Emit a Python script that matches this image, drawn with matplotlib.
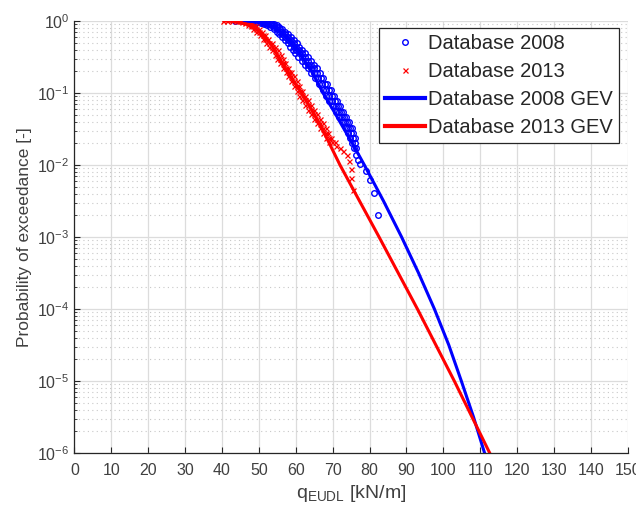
import numpy as np
import matplotlib
matplotlib.use("Agg")
import matplotlib.pyplot as plt
from matplotlib.ticker import LogLocator, NullFormatter

plt.rcParams["font.family"] = ["Liberation Sans", "DejaVu Sans"]

# empirical exceedance points, database 2008: one probability level per row,
# with the q [kN/m] values of the markers read along that level
db08_levels = [1.0, 0.99, 0.975, 0.95, 0.92, 0.88, 0.83, 0.77, 0.71, 0.65,
               0.59, 0.54, 0.49, 0.44, 0.40, 0.36, 0.32, 0.28, 0.245, 0.22,
               0.19, 0.16, 0.135, 0.11, 0.092, 0.078, 0.065, 0.055, 0.046,
               0.039, 0.033, 0.028, 0.024, 0.020, 0.017, 0.014, 0.0117,
               0.0102, 0.0083, 0.0062, 0.0041, 0.0020]
db08_rows = [
    [43.5, 45.5, 46.5, 47.5, 48.5],
    [47.0, 48.0, 49.0, 50.0, 51.0],
    [49.5, 50.5, 51.3, 52.2],
    [50.5, 51.5, 52.3, 53.2],
    [51.5, 52.5, 53.3, 54.0],
    [52.3, 53.2, 54.0, 54.8],
    [53.0, 54.0, 54.8, 55.5],
    [54.0, 54.8, 55.6, 56.4],
    [54.8, 55.6, 56.4, 57.2],
    [55.5, 56.4, 57.2, 58.0],
    [56.3, 57.2, 58.0, 58.8],
    [57.0, 57.9, 58.7, 59.5],
    [57.8, 58.7, 59.5, 60.3],
    [58.5, 59.4, 60.2, 61.0],
    [59.2, 60.1, 60.9, 61.7],
    [59.9, 60.8, 61.6, 62.4],
    [60.7, 61.6, 62.4, 63.2],
    [61.6, 62.5, 63.3, 64.1],
    [62.5, 63.4, 64.2, 65.0],
    [63.3, 64.2, 65.0, 65.7],
    [64.2, 65.0, 65.8, 66.5],
    [65.2, 66.0, 66.8, 67.5],
    [66.2, 67.0, 67.8, 68.5],
    [67.3, 68.1, 68.9, 69.5],
    [68.2, 69.0, 69.8, 70.4],
    [69.1, 69.9, 70.7, 71.3],
    [70.0, 70.8, 71.5, 72.1],
    [70.9, 71.7, 72.4, 72.9],
    [71.8, 72.5, 73.2, 73.7],
    [72.7, 73.4, 74.0, 74.5],
    [73.5, 74.2, 74.8, 75.2],
    [74.2, 74.9, 75.5],
    [74.8, 75.5, 76.1],
    [75.3, 76.0],
    [75.8, 76.3],
    [76.3],
    [76.9],
    [77.4],
    [79.0],
    [80.1],
    [81.2],
    [82.2],
]

# empirical exceedance points, database 2013
db13_levels = [1.0, 0.985, 0.96, 0.93, 0.89, 0.84, 0.78, 0.71, 0.64, 0.57,
               0.50, 0.44, 0.39, 0.34, 0.30, 0.26, 0.225, 0.195, 0.17, 0.145,
               0.125, 0.107, 0.092, 0.079, 0.068, 0.059, 0.051, 0.044, 0.038,
               0.033, 0.028, 0.024, 0.021, 0.0185, 0.017, 0.0155, 0.0138,
               0.0112, 0.0087, 0.0066, 0.0045]
db13_rows = [
    [40.3, 41.5, 42.8, 44.0, 45.0],
    [44.5, 45.5, 46.5],
    [45.5, 46.3, 47.1],
    [46.3, 47.1, 47.9],
    [47.0, 47.8, 48.6],
    [47.8, 48.5, 49.3],
    [48.5, 49.3, 50.0],
    [49.3, 50.1, 50.9],
    [50.2, 51.0, 51.8],
    [51.0, 51.8, 52.6],
    [51.9, 52.7, 53.5],
    [52.8, 53.6, 54.3],
    [53.6, 54.4, 55.1],
    [54.3, 55.1, 55.9],
    [55.0, 55.8, 56.5],
    [55.7, 56.5, 57.2],
    [56.5, 57.3, 58.0],
    [57.3, 58.1, 58.8],
    [58.0, 58.8, 59.5],
    [58.8, 59.6, 60.3],
    [59.5, 60.3, 61.0],
    [60.3, 61.1, 61.8],
    [61.0, 61.8, 62.5],
    [61.8, 62.6, 63.3],
    [62.6, 63.4, 64.1],
    [63.4, 64.2, 64.9],
    [64.2, 65.0, 65.7],
    [65.0, 65.8, 66.5],
    [65.8, 66.6, 67.3],
    [66.6, 67.4, 68.1],
    [67.4, 68.2, 68.8],
    [68.2, 68.9, 69.5],
    [69.0, 69.8, 70.6],
    [71.0],
    [72.0],
    [72.9],
    [73.8],
    [74.5],
    [74.9],
    [75.1],
    [75.4],
]

# fitted GEV exceedance curves
gev08_q = [46.0, 49.0, 52.0, 54.5, 57.0, 59.5, 62.0, 64.5, 67.4, 70.3, 73.1,
           75.9, 78.6, 83.8, 88.7, 93.3, 97.6, 101.5, 104.9, 108.2, 111.2]
gev08_p = [1.0, 0.977, 0.912, 0.794, 0.631, 0.447, 0.302, 0.191, 0.1, 0.0562,
           0.0316, 0.0178, 1e-2, 3.16e-3, 1e-3, 3.16e-4, 1e-4, 3.16e-5, 1e-5,
           3.16e-6, 1e-6]
gev13_q = [40.5, 44.0, 46.5, 49.8, 53.4, 56.1, 58.9, 61.6, 64.5, 67.2, 72.0,
           77.3, 82.6, 87.8, 93.0, 98.0, 103.0, 107.8, 112.6]
gev13_p = [1.0, 0.977, 0.912, 0.741, 0.468, 0.269, 0.158, 0.1, 0.0562, 0.0316,
           1e-2, 3.16e-3, 1e-3, 3.16e-4, 1e-4, 3.16e-5, 1e-5, 3.16e-6, 1e-6]

x_ticks = np.arange(0, 151, 10)

q08 = [q for row in db08_rows for q in row]
p08 = [p for p, row in zip(db08_levels, db08_rows) for _ in row]
q13 = [q for row in db13_rows for q in row]
p13 = [p for p, row in zip(db13_levels, db13_rows) for _ in row]

fig = plt.figure(figsize=(6.36, 5.12), dpi=100)
ax = fig.add_axes([0.117, 0.115, 0.870, 0.844])

ax.plot(q08, p08, "o", ls="none", color="#0000ff", ms=4.0, mew=1.0,
        mfc="none", label="Database 2008")
ax.plot(q13, p13, "x", ls="none", color="#ff0000", ms=3.6, mew=0.9,
        label="Database 2013")
ax.plot(gev08_q, gev08_p, "-", color="#0000ff", lw=2.2, label="Database 2008 GEV")
ax.plot(gev13_q, gev13_p, "-", color="#ff0000", lw=2.2, label="Database 2013 GEV")

ax.set_yscale("log")
ax.set_xlim(0, 150)
ax.set_ylim(1e-6, 1)
ax.set_xticks(x_ticks)
ax.yaxis.set_major_locator(LogLocator(base=10, numticks=10))
ax.yaxis.set_minor_locator(LogLocator(base=10, subs=np.arange(2, 10), numticks=20))
ax.yaxis.set_minor_formatter(NullFormatter())

ax.grid(True, which="major", color="#dcdcdc", lw=0.9, ls="-")
ax.grid(True, which="minor", axis="y", color="#c8c8c8", lw=0.8, ls=(0, (1, 3)))
ax.set_axisbelow(True)

for s in ("top", "right"):
    ax.spines[s].set_visible(False)
for s in ("left", "bottom"):
    ax.spines[s].set_color("#262626")
    ax.spines[s].set_linewidth(0.9)
ax.tick_params(which="both", direction="in", colors="#262626", labelsize=11.5,
               labelcolor="#404040")
ax.tick_params(which="major", length=4)
ax.tick_params(which="minor", length=2)
ax.tick_params(axis="x", pad=7)

ax.set_xlabel(r"q$_\mathregular{EUDL}$ [kN/m]", fontsize=14, color="#404040", labelpad=4)
ax.set_ylabel("Probability of exceedance [-]", fontsize=12.5, color="#404040", labelpad=4)

leg = ax.legend(loc="upper right", bbox_to_anchor=(0.995, 0.998), fontsize=14.5,
                frameon=True, fancybox=False, edgecolor="#262626", framealpha=1,
                handlelength=2.0, handletextpad=0.15, borderpad=0.3, labelspacing=0.45,
                borderaxespad=0.3)
leg.get_frame().set_linewidth(0.9)
for t in leg.get_texts():
    t.set_color("#262626")
for h in leg.get_lines()[2:]:
    h.set_linewidth(3.0)

fig.savefig("out.png", dpi=100)
